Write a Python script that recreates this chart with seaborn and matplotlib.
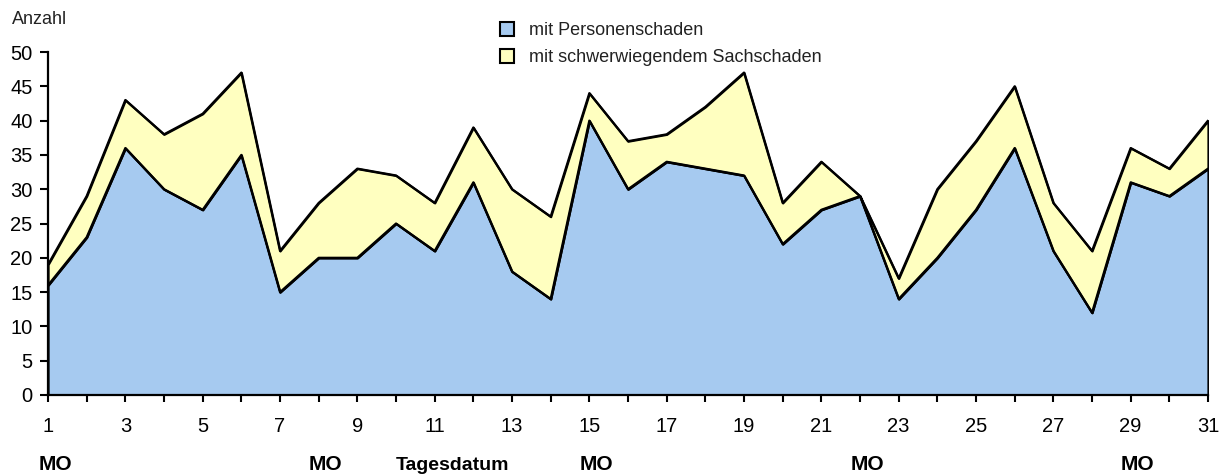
import matplotlib
matplotlib.use("Agg")
import matplotlib.pyplot as plt
import seaborn as sns
import pandas as pd
from matplotlib.patches import Patch

# ---- data ----
days = list(range(1, 32))
personenschaden = [16, 23, 36, 30, 27, 35, 15, 20, 20, 25, 21, 31, 18, 14, 40,
                   30, 34, 33, 32, 22, 27, 29, 14, 20, 27, 36, 21, 12, 31, 29, 33]
gesamt = [19, 29, 43, 38, 41, 47, 21, 28, 33, 32, 28, 39, 30, 26, 44,
          37, 38, 42, 47, 28, 34, 29, 17, 30, 37, 45, 28, 21, 36, 33, 40]
sachschaden = [g - p for g, p in zip(gesamt, personenschaden)]
mondays = [1, 8, 15, 22, 29]
series_labels = ["mit Personenschaden", "mit schwerwiegendem Sachschaden"]
y_ticks = list(range(0, 51, 5))

df = pd.DataFrame({"Tag": days, "Person": personenschaden, "Gesamt": gesamt})

BLUE = "#A6CAF0"
YELLOW = "#FFFFC0"

sns.set_theme(style="white")
plt.rcParams["font.family"] = ["Liberation Sans", "DejaVu Sans"]

fig = plt.figure(figsize=(12.24, 4.75), dpi=100)
ax = fig.add_axes([48 / 1224, 80 / 475, 1160 / 1224, 343 / 475])

ax.stackplot(df["Tag"], df["Person"], sachschaden, colors=[BLUE, YELLOW],
             edgecolor="black", linewidth=1.6)
sns.lineplot(data=df, x="Tag", y="Person", color="black", linewidth=1.6, ax=ax)
sns.lineplot(data=df, x="Tag", y="Gesamt", color="black", linewidth=1.6, ax=ax)

ax.set_xlim(1, 31)
ax.set_ylim(0, 50)
ax.set_xlabel("")
ax.set_ylabel("")
sns.despine(ax=ax, top=True, right=True)
for s in ("left", "bottom"):
    ax.spines[s].set_color("black")
    ax.spines[s].set_linewidth(1.6)
    ax.spines[s].set_zorder(5)

ax.set_yticks(y_ticks)
ax.set_yticklabels([str(v) for v in y_ticks])
ax.set_xticks(days)
ax.set_xticklabels([str(d) if d % 2 == 1 else "" for d in days])
ax.tick_params(axis="y", direction="out", length=6, width=1.5, color="black",
               pad=5, labelsize=14.5, labelcolor="black", left=True)
ax.tick_params(axis="x", direction="out", length=5, width=1.5, color="black",
               pad=11, labelsize=14.5, labelcolor="black", bottom=True)

for d in mondays:
    ax.annotate("MO", xy=(d, 0), xycoords=("data", "axes fraction"),
                xytext=(5, -50), textcoords="offset points",
                ha="center", va="center", fontsize=15, fontweight="bold",
                color="black")

fig.text(452 / 1224, 1 - 465 / 475, "Tagesdatum", ha="center", va="center",
         fontsize=14, fontweight="bold", color="black")
fig.text(12 / 1224, 1 - 19 / 475, "Anzahl", ha="left", va="center",
         fontsize=13, color="#222222")

handles = [Patch(facecolor=BLUE, edgecolor="black", linewidth=1.5),
           Patch(facecolor=YELLOW, edgecolor="black", linewidth=1.5)]
fig.legend(handles, series_labels, loc="upper left",
           bbox_to_anchor=(500 / 1224, 1 - 22 / 475), frameon=False,
           fontsize=13, handlelength=0.8, handleheight=0.8,
           handletextpad=0.8, labelspacing=0.55, borderpad=0,
           borderaxespad=0, labelcolor="#222222")

fig.savefig("out.png", dpi=100)
